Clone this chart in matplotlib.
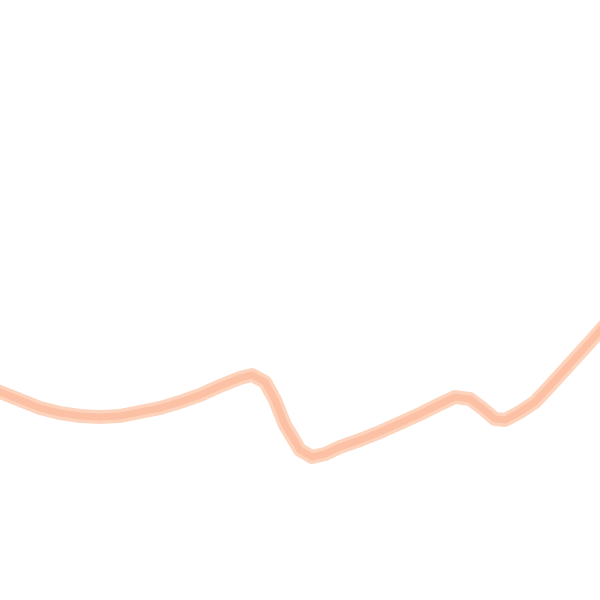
import numpy as np
import matplotlib
matplotlib.use("Agg")
import matplotlib.pyplot as plt

# values (x across, y up, both 0..600)
xs = [0, 20, 40, 60, 80, 100, 120, 140, 160, 180, 200, 220, 240, 252,
      265, 275, 285, 300, 312, 325, 340, 360, 380, 400, 420, 440, 455,
      470, 482, 495, 505, 520, 535, 550, 570, 590, 605]
ys = [208, 200, 192, 187, 184, 183, 184, 188, 192, 198, 205, 214, 222, 225,
      218, 200, 175, 150, 143, 146, 153, 160, 168, 177, 186, 196, 203,
      201, 192, 181, 180, 188, 198, 214, 236, 258, 275]

fig = plt.figure(figsize=(6, 6), dpi=100)
ax = fig.add_axes([0, 0, 1, 1])
ax.plot(xs, ys, color="#fdd3bb", lw=10, solid_joinstyle="round")
ax.plot(xs, ys, color="#fcc0a5", lw=5, solid_joinstyle="round")
ax.set_xlim(0, 600)
ax.set_ylim(0, 600)
ax.axis("off")
fig.savefig("out.png", dpi=100)
